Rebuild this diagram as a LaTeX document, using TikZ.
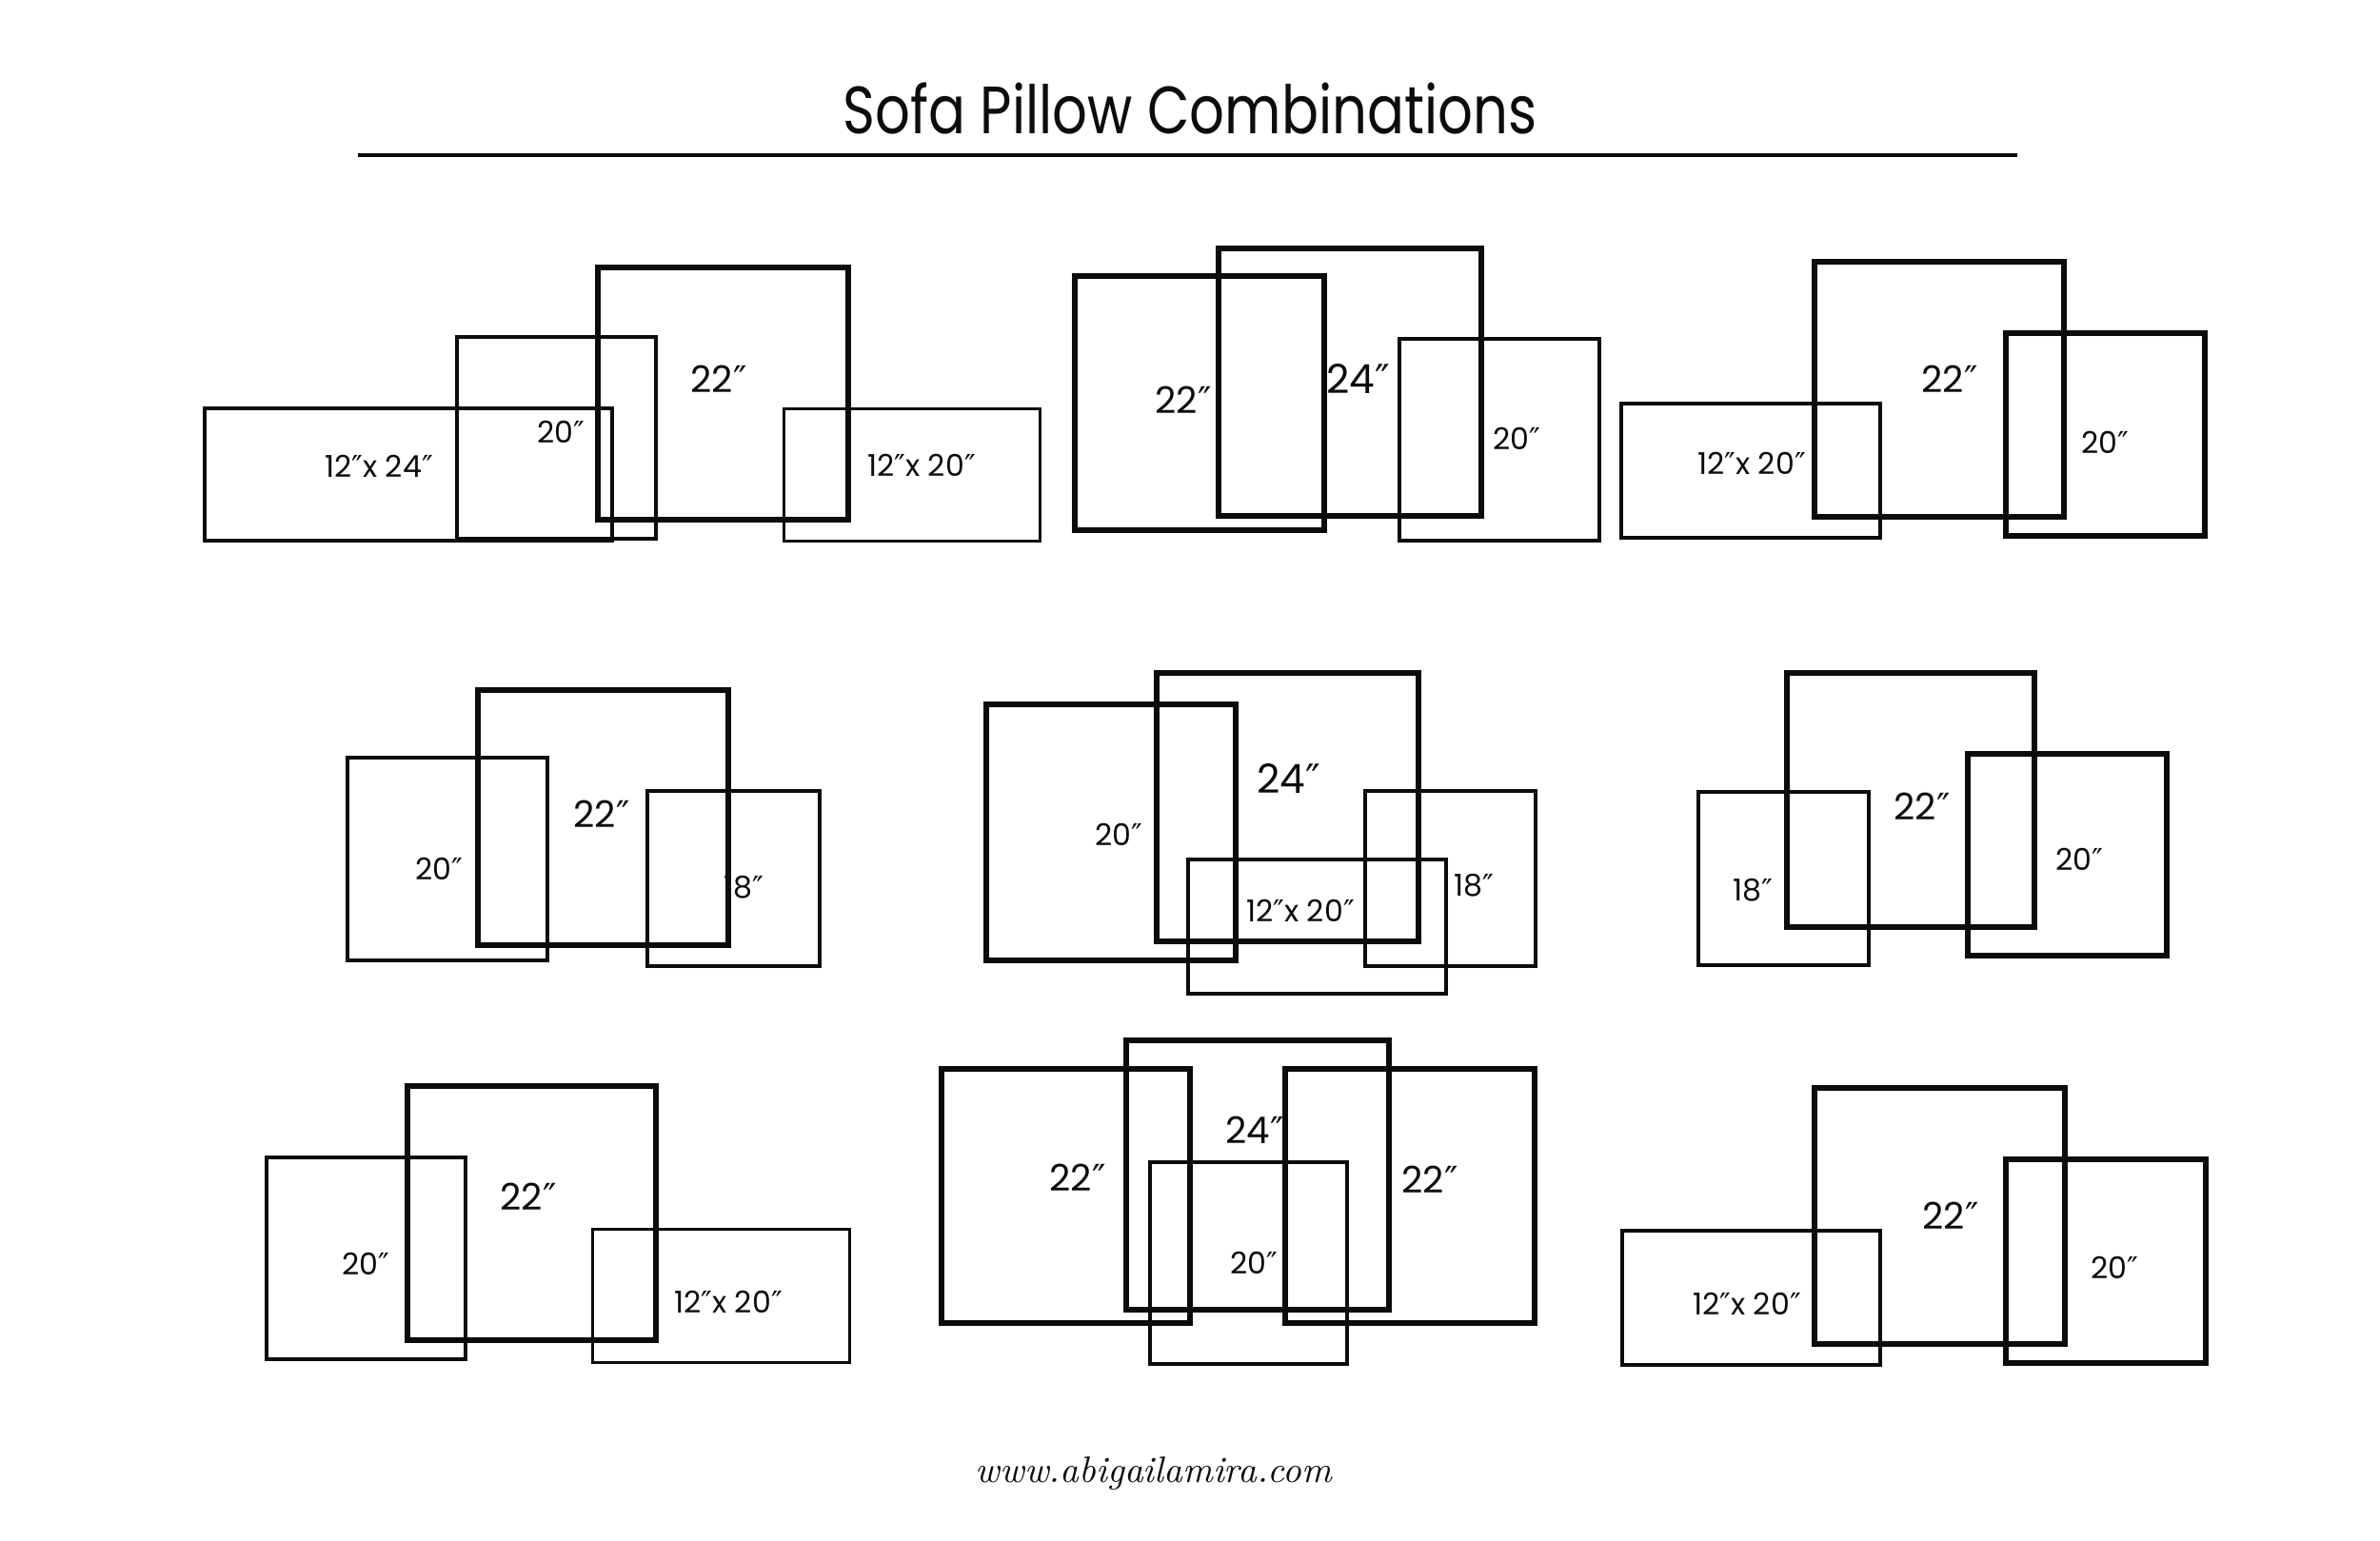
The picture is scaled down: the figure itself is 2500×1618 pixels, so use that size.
\documentclass[tikz,border=0pt]{standalone}
\usepackage{fontspec}
\usepackage{xcolor}
\setmainfont{Poppins}
\newfontfamily\headfont{Poppins}[FakeStretch=0.82]
\newfontfamily\webfont{Latin Modern Roman}
\newfontfamily\inchfont{DejaVu Sans}
\definecolor{inkblack}{RGB}{12,12,12}
\newcommand{\inchmark}{{\inchfont ″}}

\begin{document}
\begin{tikzpicture}[x=0.01cm, y=-0.01cm,
    pillowheavy/.style={draw=inkblack, line width=0.065cm},
    pillowmid/.style={draw=inkblack, line width=0.045cm},
    pillowthin/.style={draw=inkblack, line width=0.03cm},
    dimtext/.style={text=inkblack, inner sep=0pt, font=\fontsize{9}{11}\selectfont},
    dimbig/.style={text=inkblack, inner sep=0pt, font=\fontsize{11}{13}\selectfont},
    dimhuge/.style={text=inkblack, inner sep=0pt, font=\fontsize{12}{14}\selectfont},
    heading/.style={text=inkblack, inner sep=0pt, font=\headfont\fontsize{20}{24}\selectfont}
  ]
    \fill[white] (0,0) rectangle (2500,1618);
    \useasboundingbox (0,0) rectangle (2500,1618);

    \node[heading] at (1250,114) (title) {Sofa Pillow Combinations};
    \coordinate (ruleL) at (376,163);
    \coordinate (ruleR) at (2119,163);
    \draw[inkblack, line width=0.04cm] (ruleL) -- (ruleR);

    \draw[pillowmid] (215,429) rectangle (643,568);
    \draw[pillowmid] (480,354) rectangle (689,566);
    \draw[pillowheavy] (628,281) rectangle (891,546);
    \draw[pillowthin] (823,429) rectangle (1092,568);
    \node[dimbig] at (755,398) (a22) {22\inchmark};
    \node[dimtext] at (589,454) (a20) {20\inchmark};
    \node[dimtext] at (398,490) (a1224) {12\inchmark x 24\inchmark};
    \node[dimtext] at (968,489) (a1220) {12\inchmark x 20\inchmark};

    \draw[pillowheavy] (1129,290) rectangle (1391,557);
    \draw[pillowheavy] (1280,261) rectangle (1556,542);
    \draw[pillowmid] (1470,356) rectangle (1680,568);
    \node[dimbig] at (1243,420) (b22) {22\inchmark};
    \node[dimhuge] at (1427,398) (b24) {24\inchmark};
    \node[dimtext] at (1593,461) (b20) {20\inchmark};

    \draw[pillowmid] (1703,424) rectangle (1975,565);
    \draw[pillowheavy] (1906,275) rectangle (2168,543);
    \draw[pillowheavy] (2107,350) rectangle (2316,563);
    \node[dimbig] at (2048,398) (c22) {22\inchmark};
    \node[dimtext] at (1840,487) (c1220) {12\inchmark x 20\inchmark};
    \node[dimtext] at (2211,465) (c20) {20\inchmark};

    \draw[pillowmid] (365,796) rectangle (575,1009);
    \draw[pillowheavy] (502,725) rectangle (765,993);
    \draw[pillowmid] (680,831) rectangle (861,1015);
    \node[dimbig] at (632,855) (d22) {22\inchmark};
    \node[dimtext] at (461,913) (d20) {20\inchmark};
    \node[dimtext] at (781,932) (d18) {18\inchmark};

    \draw[pillowheavy] (1036,740) rectangle (1298,1009);
    \draw[pillowheavy] (1215,707) rectangle (1490,989);
    \draw[pillowmid] (1434,831) rectangle (1613,1015);
    \draw[pillowmid] (1248,903) rectangle (1519,1044);
    \node[dimhuge] at (1354,818) (e24) {24\inchmark};
    \node[dimtext] at (1175,877) (e20) {20\inchmark};
    \node[dimtext] at (1366,957) (e1220) {12\inchmark x 20\inchmark};
    \node[dimtext] at (1548,930) (e18) {18\inchmark};

    \draw[pillowmid] (1784,832) rectangle (1963,1014);
    \draw[pillowheavy] (1877,707) rectangle (2137,974);
    \draw[pillowheavy] (2067,792) rectangle (2276,1004);
    \node[dimbig] at (2019,847) (f22) {22\inchmark};
    \node[dimtext] at (2184,903) (f20) {20\inchmark};
    \node[dimtext] at (1841,935) (f18) {18\inchmark};

    \draw[pillowmid] (280,1216) rectangle (489,1428);
    \draw[pillowheavy] (428,1141) rectangle (689,1408);
    \draw[pillowthin] (622,1291) rectangle (892,1431);
    \node[dimbig] at (555,1257) (g22) {22\inchmark};
    \node[dimtext] at (384,1328) (g20) {20\inchmark};
    \node[dimtext] at (765,1368) (g1220) {12\inchmark x 20\inchmark};

    \draw[pillowheavy] (989,1123) rectangle (1250,1390);
    \draw[pillowheavy] (1183,1093) rectangle (1459,1376);
    \draw[pillowheavy] (1350,1123) rectangle (1612,1390);
    \draw[pillowmid] (1208,1221) rectangle (1415,1433);
    \node[dimbig] at (1318,1187) (h24) {24\inchmark};
    \node[dimbig] at (1132,1237) (h22l) {22\inchmark};
    \node[dimbig] at (1502,1239) (h22r) {22\inchmark};
    \node[dimtext] at (1317,1327) (h20) {20\inchmark};

    \draw[pillowmid] (1704,1293) rectangle (1975,1434);
    \draw[pillowheavy] (1906,1143) rectangle (2169,1412);
    \draw[pillowheavy] (2107,1218) rectangle (2317,1432);
    \node[dimbig] at (2049,1277) (i22) {22\inchmark};
    \node[dimtext] at (1835,1370) (i1220) {12\inchmark x 20\inchmark};
    \node[dimtext] at (2221,1332) (i20) {20\inchmark};

    \node[text=inkblack, inner sep=0pt, font=\webfont\itshape\fontsize{11}{13}\selectfont] at (1212,1548) (site) {www.abigailamira.com};
  \end{tikzpicture}
\end{document}
